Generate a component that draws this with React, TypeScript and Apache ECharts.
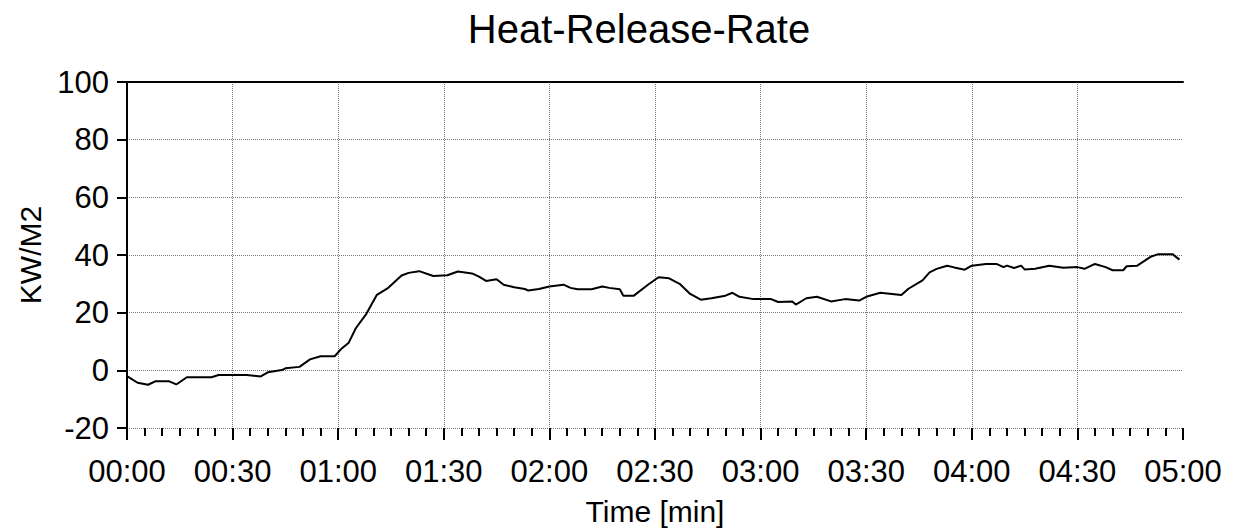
import React, { useEffect, useRef } from "react";
import * as echarts from "echarts";

// time in seconds
const timeSec = [0,3,6,8,12,14,17,24,26,34,38,40,44,45,49,52,55,59,61,63,65,68,71,74,78,80,83,87,91,94,98,100,102,105,107,110,113,114,117,120,124,126,128,132,135,137,140,141,144,148,151,154,157,160,163,166,170,172,174,178,183,185,189,190,193,196,200,204,208,210,214,220,222,226,228,230,233,235,238,240,244,247,249,250,252,254,255,258,262,266,270,272,275,278,280,283,284,287,291,293,297,299];
const hrrValues = [-2,-4.3,-5,-3.8,-3.8,-4.9,-2.4,-2.4,-1.6,-1.6,-2.1,-0.7,0.1,0.7,1.2,3.8,4.9,4.9,7.6,9.6,14.6,19.6,26.2,28.4,32.9,33.8,34.4,32.7,33,34.3,33.6,32.5,31,31.6,29.7,28.8,28.2,27.7,28.2,29.1,29.7,28.6,28.1,28.1,29.1,28.6,28.1,25.9,25.9,29.7,32.3,31.9,30,26.5,24.5,25,25.9,26.9,25.5,24.7,24.7,23.7,23.9,22.8,25,25.5,23.9,24.7,24.2,25.5,26.9,26.1,28.3,31.2,34,35.2,36.3,35.7,34.9,36.3,36.9,36.9,35.8,36.3,35.5,36.3,35,35.2,36.3,35.6,35.8,35.2,36.9,35.8,34.7,34.7,36.1,36.3,39.5,40.3,40.3,38.4];

const titleText = "Heat-Release-Rate";
const xName = "Time [min]";
const yName = "KW/M2";
const xMin = 0, xMax = 300, xInterval = 30;
const yMin = -20, yMax = 100, yInterval = 20;

const FONT = "'Liberation Sans', Arial, sans-serif";

function fmt(v: number) {
  const m = Math.floor(v / 60);
  const s = Math.round(v % 60);
  return String(m).padStart(2, "0") + ":" + String(s).padStart(2, "0");
}

export default function App() {
  const ref = useRef<HTMLDivElement>(null);
  useEffect(() => {
    if (!ref.current) return;
    const chart = echarts.init(ref.current, null, { renderer: "svg" });
    chart.setOption({
      animation: false,
      backgroundColor: "#fff",
      title: {
        text: titleText,
        left: 634,
        top: 4,
        textAlign: "center",
        textStyle: { fontFamily: FONT, fontSize: 40, fontWeight: "normal", color: "#000" },
      },
      grid: { left: 127, right: 51, top: 82, bottom: 89, containLabel: false },
      xAxis: [
        {
          type: "value",
          min: xMin,
          max: xMax,
          interval: xInterval,
          name: xName,
          nameLocation: "middle",
          nameGap: 68,
          nameTextStyle: { fontFamily: FONT, fontSize: 30, color: "#000" },
          axisLine: { show: false, onZero: false },
          axisTick: { show: true, length: 12, lineStyle: { color: "#000", width: 2 } },
          minorTick: { show: true, splitNumber: 6, length: 8, lineStyle: { color: "#000", width: 2 } },
          axisLabel: {
            fontFamily: FONT,
            fontSize: 31,
            color: "#000",
            margin: 28,
            formatter: (v: number) => fmt(v),
          },
          splitLine: {
            show: true,
            showMinLine: false,
            showMaxLine: false,
            lineStyle: { color: "#777", type: "dotted", width: 1 },
          },
        },
        {
          type: "value",
          position: "top",
          min: xMin,
          max: xMax,
          axisLine: { show: true, onZero: false, lineStyle: { color: "#000", width: 2 } },
          axisTick: { show: false },
          axisLabel: { show: false },
          splitLine: { show: false },
        },
      ],
      yAxis: {
        type: "value",
        min: yMin,
        max: yMax,
        interval: yInterval,
        name: yName,
        nameLocation: "middle",
        nameGap: 82,
        nameTextStyle: { fontFamily: FONT, fontSize: 30, color: "#000" },
        axisLine: { show: true, onZero: false, lineStyle: { color: "#000", width: 2 } },
        axisTick: { show: true, length: 10, lineStyle: { color: "#000", width: 2 } },
        axisLabel: { fontFamily: FONT, fontSize: 31, color: "#000", margin: 18 },
        splitLine: {
          show: true,
          lineStyle: { color: "#777", type: "dotted", width: 1 },
        },
      },
      series: [
        {
          type: "line",
          data: timeSec.map((t, i) => [t, hrrValues[i]]),
          showSymbol: false,
          lineStyle: { color: "#000", width: 2 },
          xAxisIndex: 0,
        },
      ],
    });
    return () => chart.dispose();
  }, []);
  return (
    <div
      ref={ref}
      style={{ position: "fixed", left: 0, top: 0, width: 1234, height: 531, background: "#fff" }}
    />
  );
}
